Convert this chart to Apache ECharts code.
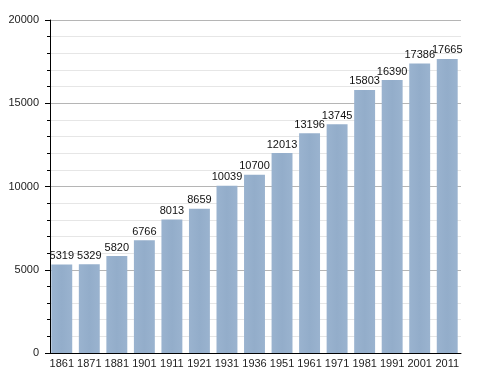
<!DOCTYPE html>
<html><head><meta charset="utf-8">
<script src="https://cdn.jsdelivr.net/npm/echarts@6/dist/echarts.min.js"></script>
<style>html,body{margin:0;padding:0;background:#fff}#c{width:488px;height:373px}</style>
</head><body><div id="c"></div>
<script>
var years = ['1861','1871','1881','1901','1911','1921','1931','1936','1951','1961','1971','1981','1991','2001','2011'];
var population = [5319,5329,5820,6766,8013,8659,10039,10700,12013,13196,13745,15803,16390,17386,17665];
var yTicks = [0,5000,10000,15000,20000];
var FONT = '"Liberation Sans", Arial, sans-serif';

var chart = echarts.init(document.getElementById('c'));
chart.setOption({
  animation:false,
  backgroundColor:'#fff',
  grid:{left:48, right:27, top:20, bottom:20},
  xAxis:{
    type:'category', data:years,
    axisLine:{lineStyle:{color:'#000', width:1}},
    axisTick:{show:false},
    axisLabel:{color:'#222', fontFamily:FONT, fontSize:11, margin:5, interval:0}
  },
  yAxis:{
    type:'value', min:yTicks[0], max:yTicks[yTicks.length-1], interval:5000,
    offset:-2,
    axisLine:{show:true, lineStyle:{color:'#000', width:1}},
    axisTick:{show:true, length:5, lineStyle:{color:'#000'}},
    minorTick:{show:true, splitNumber:5, length:3, lineStyle:{color:'#000'}},
    splitLine:{show:true, lineStyle:{color:'#b5b5b5', width:1}},
    minorSplitLine:{show:true, lineStyle:{color:'#e6e6e6', width:1}},
    axisLabel:{color:'#222', fontFamily:FONT, fontSize:11, margin:11,
      formatter:function(v){return String(v);}}
  },
  series:[{
    type:'bar', data:population, barCategoryGap:'24%',
    itemStyle:{color:{type:'linear', x:0, y:0, x2:1, y2:0, colorStops:[
      {offset:0, color:'#9ab3cf'},{offset:0.5, color:'#93adca'},{offset:1, color:'#9ab3cf'}]}},
    label:{show:true, position:'top', distance:3, color:'#111', fontFamily:FONT, fontSize:11,
      formatter:function(p){return String(p.value);}}
  }]
});
</script></body></html>
